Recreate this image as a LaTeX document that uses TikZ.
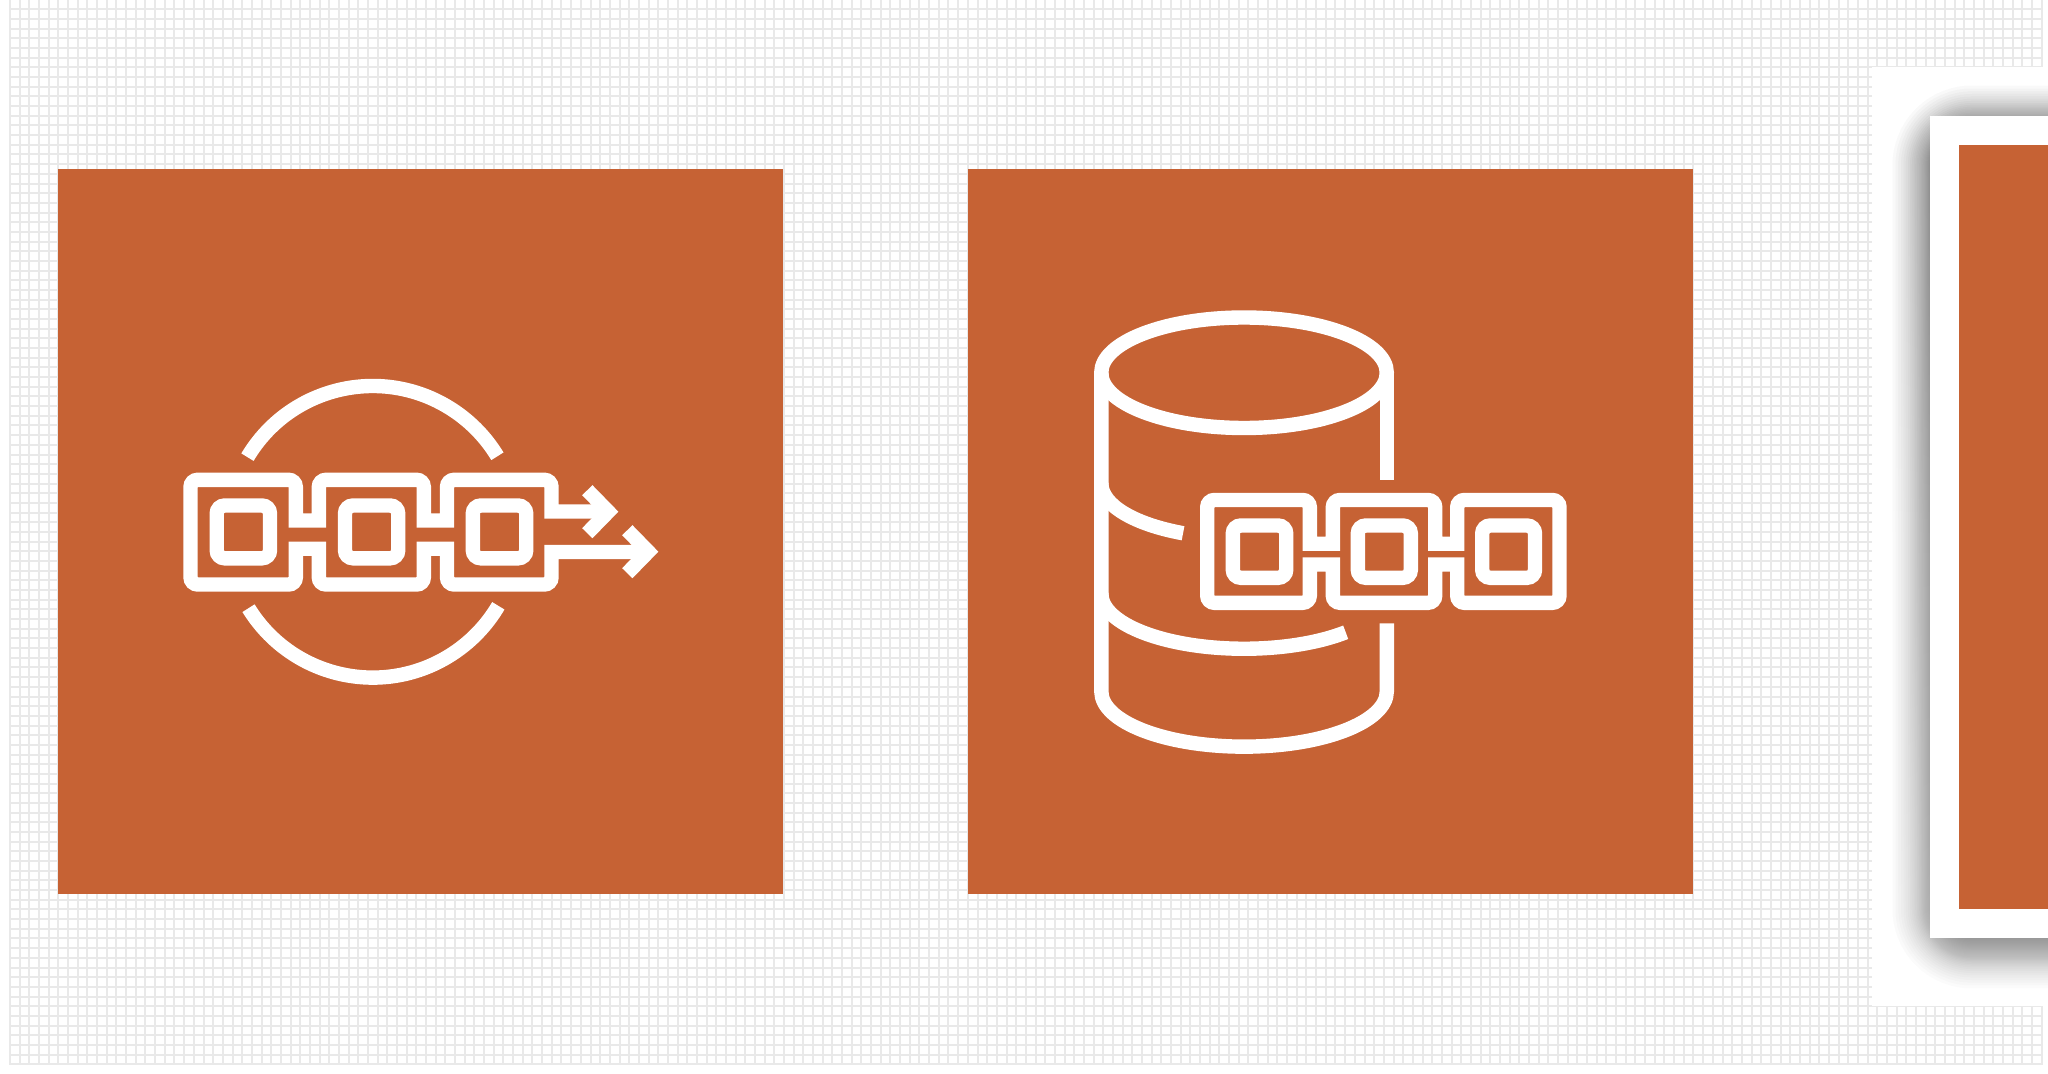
\documentclass[tikz,border=0pt]{standalone}
\definecolor{rust}{HTML}{C66234}
\definecolor{gridgrey}{HTML}{E9E9E9}
\definecolor{shade}{HTML}{2A2C22}
\tikzset{
  icon/.style={draw=white,line width=7.2pt,line join=miter,miter limit=10},
  rc/.style={rounded corners=3.6pt},
  sc/.style={sharp corners},
  gridline/.style={draw=gridgrey,line width=1pt},
  tile/.style={fill=rust,draw=none},
}
\newcommand{\roundsq}[4]{\draw[icon,rounded corners=4pt] (#1,#3) rectangle (#2,#4);}
\newcommand{\chev}[3]{\draw[icon] (#1,#3-21.5) -- (#2,#3) -- (#1,#3+21.5);}
\begin{document}
\begin{tikzpicture}[x=0.5pt,y=0.5pt,yscale=-1]
\useasboundingbox (0,0) rectangle (2048,1074);
\clip (0,0) rectangle (2048,1074);
\fill[white] (0,0) rectangle (2048,1074);
% grid
\foreach \i in {0,...,210}{\pgfmathsetmacro{\gx}{10+9.675*\i}\draw[gridline] (\gx,0) -- (\gx,1065);}
\foreach \j in {0,...,109}{\pgfmathsetmacro{\gy}{9.3+9.679*\j}\draw[gridline] (9.5,\gy) -- (2042.2,\gy);}
% white panel at right
\fill[white] (1872,67) rectangle (2060,1006);
% shadow of the framed tile
\foreach \k in {0,...,47}{
  \pgfmathsetmacro{\tt}{2*(\k+0.5)/48-1}
  \pgfmathsetmacro{\ee}{40*(0.55*\tt+0.45*\tt*\tt*\tt)}
  \pgfmathsetmacro{\rr}{(\ee+40)*0.5+0.5}
  \fill[shade,opacity=0.014,rounded corners=\rr pt]
    (1931-\ee,124-\ee) rectangle (2200,950+\ee);
}
% frame
\fill[white] (1930,115.7) rectangle (2060,938.3);
\fill[tile] (1959,145) rectangle (2060,909.3);
% tiles
\fill[tile] (58,169.3) rectangle (783.3,894.3);
\fill[tile] (968,169.3) rectangle (1693,894.3);
% ---- icon 1 ----
\draw[icon] (372.7,531.8) ++(210.8:72.9pt) arc[start angle=210.8,end angle=328.8,radius=72.9pt];
\draw[icon] (372.7,531.8) ++(148.4:72.9pt) arc[start angle=148.4,end angle=30.5,radius=72.9pt];
\draw[icon] (608,511.5) [sc] -- (551.5,511.5) [rc] -- (551.5,479.8) -- (447,479.8) [sc] -- (447,520.5)
  -- (423.8,520.5) [rc] -- (423.8,479.8) -- (318.8,479.8) [sc] -- (318.8,520.5)
  -- (295.8,520.5) [rc] -- (295.8,479.8) -- (190.5,479.8) -- (190.5,584.5) -- (295.8,584.5) [sc] -- (295.8,548.7)
  -- (318.8,548.7) [rc] -- (318.8,584.5) -- (423.8,584.5) [sc] -- (423.8,548.7)
  -- (447,548.7) [rc] -- (447,584.5) -- (551.5,584.5) [sc] -- (551.5,552) -- (648,552);
\chev{587.3}{608.3}{511.7}
\chev{627.3}{648.3}{551.7}
\roundsq{216.7}{270}{505.5}{558.3}
\roundsq{345}{398.2}{505.5}{558.3}
\roundsq{472.8}{526.2}{505.5}{558.3}
% ---- icon 2 ----
\draw[icon] (1244,372.75) circle[x radius=71.375pt,y radius=27.625pt];
\draw[icon] (1386.8,372.75) -- (1386.8,480);
\draw[icon] (1101.3,372.75) -- (1101.3,691.4) arc[start angle=180,end angle=0,x radius=71.375pt,y radius=27.625pt] -- (1386.8,623.3);
\draw[icon] (1101.3,483.3) arc[start angle=180,end angle=115.3,x radius=71.375pt,y radius=27.625pt];
\draw[icon] (1101.3,593.5) arc[start angle=180,end angle=44.6,x radius=71.375pt,y radius=27.625pt];
\draw[icon] (1260,500) [rc] -- (1309.8,500) [sc] -- (1309.8,543.7)
  -- (1332.8,543.7) [rc] -- (1332.8,500) -- (1435.2,500) [sc] -- (1435.2,543.7)
  -- (1457.2,543.7) [rc] -- (1457.2,500) -- (1559.5,500) -- (1559.5,602.8) -- (1457.2,602.8) [sc] -- (1457.2,564.5)
  -- (1435.2,564.5) [rc] -- (1435.2,602.8) -- (1332.8,602.8) [sc] -- (1332.8,564.5)
  -- (1309.8,564.5) [rc] -- (1309.8,602.8) -- (1207.2,602.8) -- (1207.2,500) -- cycle;
\roundsq{1232.8}{1286.2}{525.5}{577.8}
\roundsq{1357.8}{1410.8}{525.5}{577.8}
\roundsq{1482.2}{1535}{525.5}{577.8}
\end{tikzpicture}
\end{document}
